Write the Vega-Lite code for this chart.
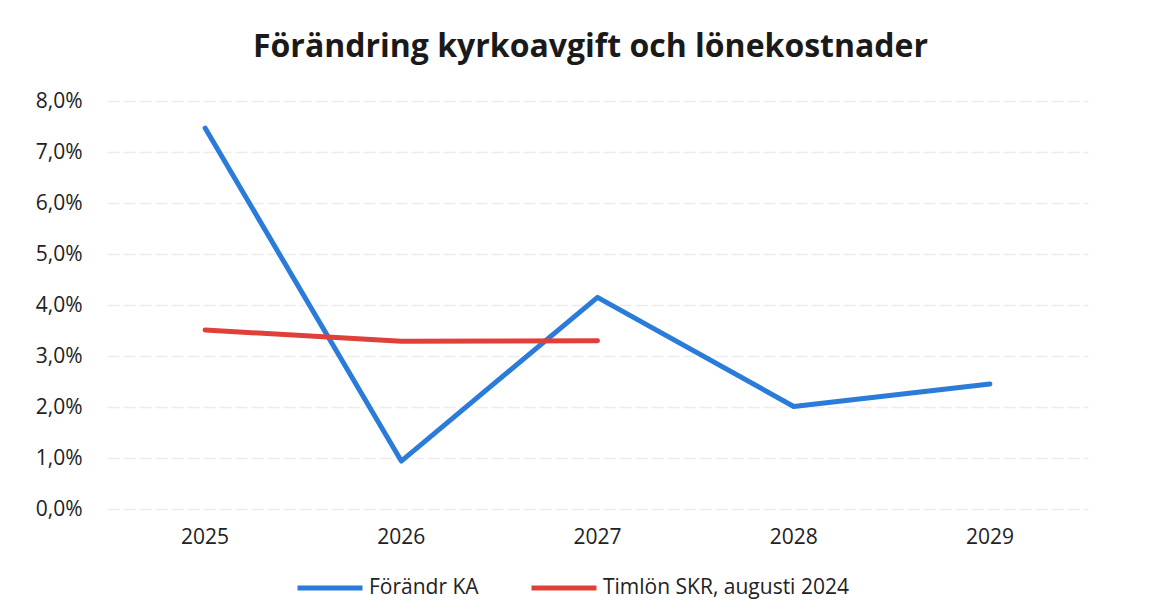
{
  "$schema": "https://vega.github.io/schema/vega-lite/v6.json",
  "width": 981,
  "height": 408,
  "autosize": {"type": "none"},
  "padding": {"left": 107, "top": 101, "right": 73, "bottom": 107},
  "background": "white",
  "title": {
    "text": "Förändring kyrkoavgift och lönekostnader",
    "font": "Open Sans",
    "fontSize": 32,
    "fontWeight": "bold",
    "color": "#1a1a1a",
    "anchor": "middle",
    "dx": -7,
    "offset": 26
  },
  "data": {
    "values": [
      {"year": "2025", "series": "Förändr KA", "value": 7.47},
      {"year": "2026", "series": "Förändr KA", "value": 0.94},
      {"year": "2027", "series": "Förändr KA", "value": 4.15},
      {"year": "2028", "series": "Förändr KA", "value": 2.01},
      {"year": "2029", "series": "Förändr KA", "value": 2.45},
      {"year": "2025", "series": "Timlön SKR, augusti 2024", "value": 3.51},
      {"year": "2026", "series": "Timlön SKR, augusti 2024", "value": 3.29},
      {"year": "2027", "series": "Timlön SKR, augusti 2024", "value": 3.3}
    ]
  },
  "mark": {"type": "line", "strokeWidth": 5, "strokeCap": "round", "strokeJoin": "round"},
  "encoding": {
    "x": {
      "field": "year",
      "type": "ordinal",
      "scale": {"type": "band", "paddingInner": 0, "paddingOuter": 0},
      "axis": {
        "title": null,
        "labelAngle": 0,
        "labelFont": "Open Sans",
        "labelFontSize": 21,
        "labelColor": "#222222",
        "labelPadding": 17,
        "ticks": false,
        "domain": false,
        "grid": false
      }
    },
    "y": {
      "field": "value",
      "type": "quantitative",
      "scale": {"domain": [0, 8], "nice": false},
      "axis": {
        "title": null,
        "values": [0, 1, 2, 3, 4, 5, 6, 7, 8],
        "labelExpr": "replace(format(datum.value, '.1f'), '.', ',') + '%'",
        "labelFont": "Open Sans",
        "labelFontSize": 21,
        "labelColor": "#222222",
        "labelPadding": 25,
        "ticks": false,
        "domain": false,
        "grid": true,
        "gridColor": "#ececec",
        "gridWidth": 1.5,
        "gridDash": [12, 4]
      }
    },
    "color": {
      "field": "series",
      "type": "nominal",
      "scale": {
        "domain": ["Förändr KA", "Timlön SKR, augusti 2024"],
        "range": ["#2b7bd8", "#e0403a"]
      },
      "legend": {
        "title": null,
        "orient": "none",
        "legendX": 188,
        "legendY": 452,
        "direction": "horizontal",
        "symbolType": "stroke",
        "symbolSize": 4225,
        "symbolStrokeWidth": 5,
        "labelFont": "Open Sans",
        "labelFontSize": 21,
        "labelColor": "#222222",
        "labelOffset": 4,
        "columnPadding": 42,
        "labelLimit": 400
      }
    }
  },
  "config": {"view": {"stroke": null}}
}
